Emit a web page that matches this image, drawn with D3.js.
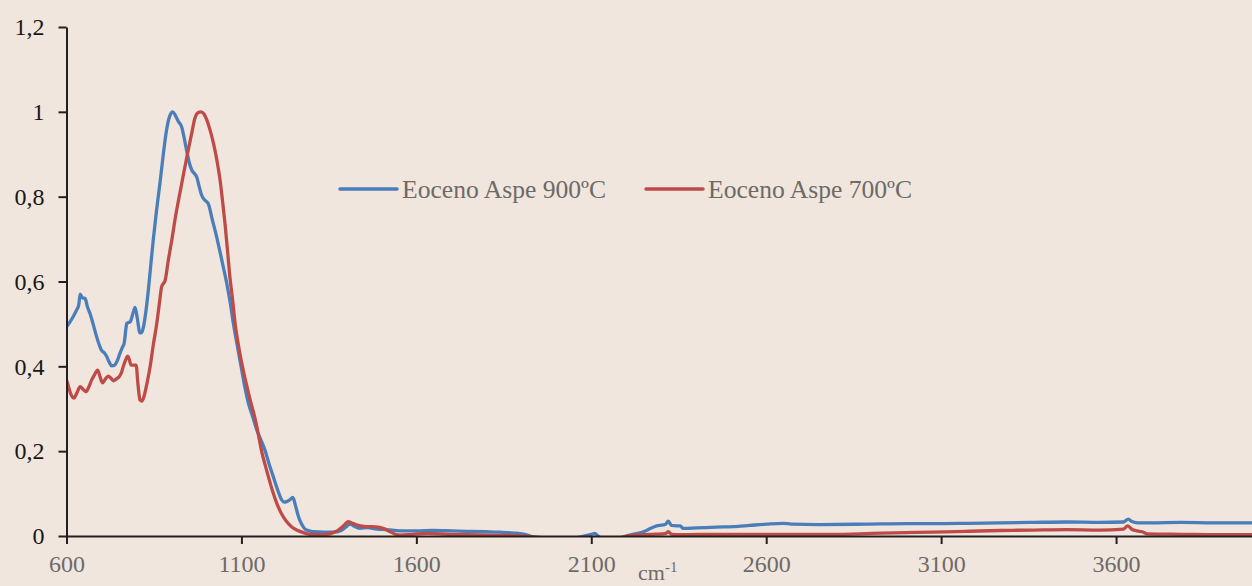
<!DOCTYPE html>
<html>
<head>
<meta charset="utf-8">
<script src="https://cdn.jsdelivr.net/npm/d3@7"></script>
<style>
  html, body { margin: 0; padding: 0; background: #F0E6DD; }
  svg { display: block; }
</style>
</head>
<body>
<svg id="chart" width="1252" height="586"></svg>
<script>
// ---- Data ----
const seriesNames = ["Eoceno Aspe 900ºC", "Eoceno Aspe 700ºC"];
const seriesColors = ["#4A7EBB", "#BE4B48"];

const wavenumber900 = [600,610,619,629,635,639,645,653,660,667,676,686,693,700,708,715,722,729,738,746,753,760,765,770,772,782,790,796,802,810,815,820,827,834,841,848,857,867,876,886,895,904,912,920,929,936,944,951,958,965,972,979,986,995,1005,1017,1029,1044,1058,1068,1077,1089,1101,1110,1120,1132,1144,1155,1167,1179,1191,1203,1215,1222,1229,1238,1247,1255,1263,1272,1282,1295,1305,1335,1363,1385,1400,1410,1425,1439,1460,1487,1515,1553,1600,1648,1700,1744,1800,1839,1880,1915,1940,2000,2060,2085,2100,2110,2118,2130,2180,2200,2225,2249,2270,2287,2305,2313,2320,2329,2345,2354,2363,2400,2458,2506,2553,2601,2649,2672,2750,2887,3000,3078,3180,3268,3360,3459,3554,3621,3635,3645,3661,3700,3785,3880,3982,4000];
const absorb900 = [0.493,0.505,0.517,0.533,0.545,0.570,0.562,0.560,0.540,0.525,0.500,0.470,0.452,0.438,0.432,0.423,0.410,0.401,0.403,0.415,0.431,0.445,0.455,0.490,0.501,0.505,0.525,0.539,0.515,0.479,0.480,0.493,0.530,0.580,0.640,0.698,0.765,0.831,0.895,0.957,0.990,1.000,0.990,0.977,0.965,0.940,0.906,0.880,0.863,0.855,0.847,0.825,0.804,0.792,0.784,0.745,0.706,0.650,0.596,0.550,0.501,0.445,0.391,0.350,0.313,0.282,0.250,0.228,0.203,0.170,0.140,0.110,0.085,0.080,0.081,0.085,0.091,0.070,0.046,0.028,0.016,0.012,0.010,0.009,0.009,0.013,0.022,0.028,0.022,0.018,0.020,0.016,0.015,0.012,0.012,0.013,0.012,0.011,0.010,0.009,0.007,0.003,-0.004,-0.006,-0.004,0.001,0.004,0.006,0.001,-0.005,-0.005,0.000,0.005,0.010,0.018,0.024,0.026,0.028,0.035,0.025,0.024,0.024,0.018,0.019,0.021,0.022,0.025,0.028,0.030,0.028,0.027,0.028,0.029,0.029,0.030,0.031,0.032,0.033,0.032,0.033,0.040,0.034,0.031,0.031,0.032,0.031,0.031,0.031];

const wavenumber700 = [600,605,610,615,621,630,639,647,656,664,672,680,689,696,703,711,719,727,734,742,751,757,762,769,775,780,784,792,799,804,810,815,820,830,839,848,858,865,872,882,891,901,912,924,936,948,958,967,976,984,993,1001,1010,1020,1030,1039,1046,1053,1060,1067,1075,1082,1091,1101,1113,1125,1135,1144,1151,1158,1167,1177,1189,1201,1215,1229,1243,1258,1277,1296,1320,1344,1362,1377,1392,1405,1414,1424,1440,1458,1475,1491,1505,1525,1540,1553,1590,1630,1690,1744,1800,1880,1935,2000,2100,2180,2210,2250,2277,2300,2313,2320,2330,2360,2450,2601,2700,2792,2900,3000,3078,3170,3268,3360,3459,3554,3621,3633,3645,3660,3675,3690,3785,3900,4000];
const absorb700 = [0.368,0.355,0.340,0.330,0.325,0.338,0.352,0.346,0.340,0.352,0.368,0.380,0.391,0.375,0.361,0.370,0.377,0.372,0.366,0.370,0.376,0.385,0.399,0.415,0.424,0.415,0.403,0.403,0.403,0.360,0.321,0.318,0.325,0.360,0.399,0.450,0.501,0.545,0.588,0.603,0.650,0.698,0.755,0.808,0.860,0.910,0.950,0.985,0.998,1.000,0.995,0.981,0.958,0.926,0.885,0.839,0.790,0.737,0.675,0.611,0.555,0.501,0.452,0.407,0.362,0.321,0.290,0.258,0.228,0.199,0.170,0.140,0.106,0.077,0.052,0.034,0.022,0.014,0.008,0.004,0.003,0.004,0.008,0.014,0.024,0.034,0.031,0.028,0.024,0.022,0.022,0.021,0.018,0.010,0.004,0.002,0.004,0.006,0.004,0.003,0.002,0.001,-0.002,-0.006,-0.006,-0.004,0.001,0.003,0.004,0.005,0.006,0.010,0.004,0.003,0.004,0.004,0.004,0.004,0.006,0.008,0.009,0.011,0.013,0.014,0.015,0.014,0.016,0.024,0.016,0.012,0.010,0.005,0.004,0.003,0.003];

const xTickValues = [600,1100,1600,2100,2600,3100,3600];
const xTickLabels = ["600","1100","1600","2100","2600","3100","3600"];
const yTickValues = [0,0.2,0.4,0.6,0.8,1.0,1.2];
const yTickLabels = ["0","0,2","0,4","0,6","0,8","1","1,2"];

// ---- Layout ----
const svg = d3.select("#chart");
const plotLeft = 66.5, plotRight = 1256, plotTop = 27, plotBottom = 536;
const x = d3.scaleLinear().domain([600, 4000]).range([plotLeft, plotRight]);
const y = d3.scaleLinear().domain([0, 1.2]).range([plotBottom, plotTop]);
const font = "'Liberation Serif', 'Times New Roman', serif";

svg.append("rect").attr("width", 1252).attr("height", 586).attr("fill", "#F0E6DD");

svg.append("defs").append("clipPath").attr("id", "plotclip")
  .append("rect").attr("x", plotLeft).attr("y", 0)
  .attr("width", plotRight - plotLeft + 10).attr("height", plotBottom + 0.5);

const series = [
  wavenumber900.map((w, i) => [w, absorb900[i]]),
  wavenumber700.map((w, i) => [w, absorb700[i]])
];

const line = d3.line().x(d => x(d[0])).y(d => y(d[1])).curve(d3.curveMonotoneX);

const gLines = svg.append("g").attr("clip-path", "url(#plotclip)");
series.forEach((s, i) => {
  gLines.append("path").datum(s)
    .attr("fill", "none")
    .attr("stroke", seriesColors[i])
    .attr("stroke-width", 3.3)
    .attr("stroke-linejoin", "round")
    .attr("stroke-linecap", "round")
    .attr("d", line);
});

// Axes
const yAxis = d3.axisLeft(y).tickValues(yTickValues)
  .tickFormat((d, i) => yTickLabels[i]).tickSize(8).tickSizeOuter(0).tickPadding(14);
const gy = svg.append("g").attr("transform", `translate(${plotLeft},0)`).call(yAxis);
gy.select(".domain").attr("stroke", "#231F20").attr("stroke-width", 2);
gy.selectAll(".tick line").attr("stroke", "#231F20").attr("stroke-width", 2);
gy.selectAll(".tick text").attr("font-family", font).attr("font-size", 24).attr("fill", "#1A1718");

const xAxis = d3.axisBottom(x).tickValues(xTickValues)
  .tickFormat((d, i) => xTickLabels[i]).tickSize(8).tickSizeOuter(0).tickPadding(11);
const gx = svg.append("g").attr("transform", `translate(0,${plotBottom})`).call(xAxis);
gx.select(".domain").attr("stroke", "#231F20").attr("stroke-width", 2);
gx.selectAll(".tick line").attr("stroke", "#231F20").attr("stroke-width", 2);
gx.selectAll(".tick text").attr("font-family", font).attr("font-size", 24).attr("fill", "#6D6A68");

// X axis title
const xt = svg.append("text").attr("x", 638).attr("y", 580)
  .attr("font-family", font).attr("font-size", 22).attr("fill", "#6D6A68");
xt.append("tspan").text("cm");
xt.append("tspan").attr("dy", -8).attr("font-size", 15).text("-1");

// Legend
const legendItems = [
  { x1: 340, x2: 397, tx: 402 },
  { x1: 646, x2: 703, tx: 708 }
];
legendItems.forEach((it, i) => {
  svg.append("line").attr("x1", it.x1).attr("x2", it.x2).attr("y1", 189).attr("y2", 189)
    .attr("stroke", seriesColors[i]).attr("stroke-width", 3.5).attr("stroke-linecap", "round");
  svg.append("text").attr("x", it.tx).attr("y", 198)
    .attr("font-family", font).attr("font-size", 25.6).attr("fill", "#6D6A68")
    .text(seriesNames[i]);
});
</script>
</body>
</html>
